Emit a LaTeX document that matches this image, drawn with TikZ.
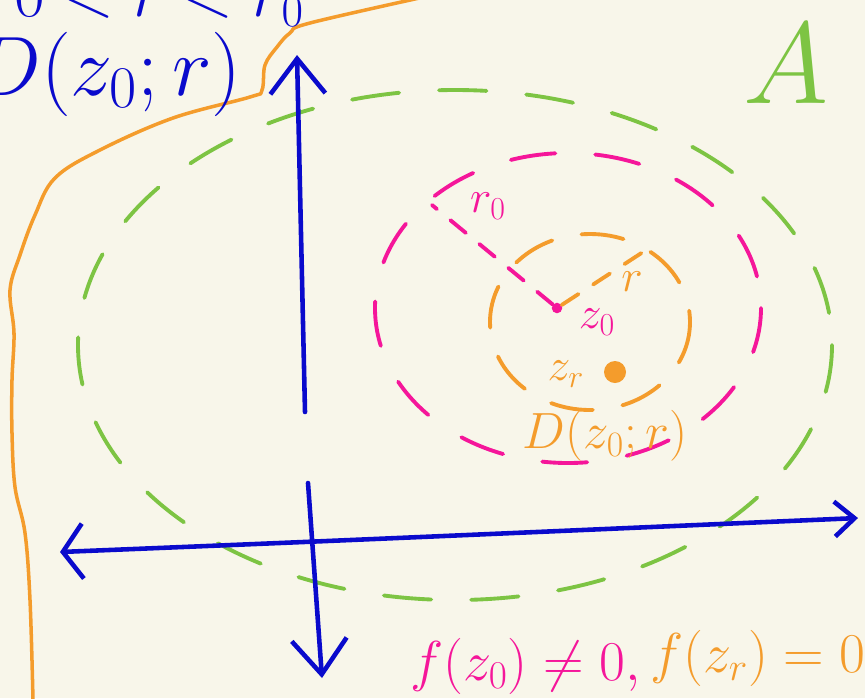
\documentclass[tikz,border=0pt]{standalone}
\usepackage{fix-cm}
\usepackage{amsmath,amssymb}
\usepackage{xcolor}
\usetikzlibrary{arrows.meta,positioning,calc}
\definecolor{paper}{HTML}{F8F6EA}
\definecolor{penblue}{HTML}{0A0ACC}
\definecolor{penorange}{HTML}{F49C2C}
\definecolor{penpink}{HTML}{F5169A}
\definecolor{pengreen}{HTML}{7DC443}

\begin{document}
\begin{tikzpicture}[
  x=0.02cm, y=-0.02cm,
  axis/.style={penblue, line width=2.6pt, line cap=round, line join=round},
  barb/.style={-{Straight Barb[length=0.7cm, width=1.1cm]}},
  region/.style={pengreen, line width=2.2pt, line cap=round, dash pattern=on 0.95cm off 0.8cm},
  bigdisc/.style={penpink, line width=2.2pt, line cap=round, dash pattern=on 0.9cm off 0.8cm},
  smalldisc/.style={penorange, line width=2.2pt, line cap=round, dash pattern=on 0.85cm off 0.6cm},
  radius/.style={line width=2.2pt, line cap=round, dash pattern=on 0.4cm off 0.35cm},
  dot/.style={circle, inner sep=0pt},
  lab/.style={inner sep=0pt, font=\fontsize{26}{30}\selectfont}
]
\useasboundingbox (0,0) rectangle (865,698);
\fill[paper] (0,0) rectangle (865,698);
\clip (0,0) rectangle (865,698);

% boundary of the domain
\draw[penorange, line width=2pt, line cap=round] plot[smooth, tension=0.6] coordinates {
  (433,-5) (310,23) (290,33) (277,47) (265,65) (262,90) (250,97) (173,118)
  (100,150) (55,178) (35,215) (20,255) (10,290) (14,333) (12,380) (12,433)
  (15,487) (25,533) (30,600) (33,700)};

% the set A
\draw[region] (455,345) ellipse [x radius=377, y radius=255];
\node[pengreen, inner sep=0pt, font=\fontsize{66}{74}\selectfont] (setA) at (786,64) {$A$};

% axes
\coordinate (ytop) at (297,55);
\coordinate (ymid) at (305,412);
\coordinate (ylow) at (308,483);
\coordinate (ybot) at (322,678);
\coordinate (xleft) at (60,552);
\coordinate (xright) at (858,518);
\draw[axis, barb] (ymid) -- (ytop);
\draw[axis, barb] (ylow) -- (ybot);
\draw[axis, {Straight Barb[length=0.4cm, width=1.1cm]}-{Straight Barb[length=0.4cm, width=0.7cm]}]
  (xleft) .. controls (330,541) .. (xright);

% the two discs
\draw[bigdisc] (568,308) ellipse [x radius=193, y radius=155];
\draw[smalldisc] (590,322) ellipse [x radius=100, y radius=88];

\node[dot, fill=penpink, minimum size=6pt] (zo) at (557,308) {};
\node[dot, fill=penorange, minimum width=0.44cm, minimum height=0.36cm] (zr) at (615,372) {};
\coordinate (rotip) at (432,205);
\coordinate (rtip) at (643,252);
\draw[radius, penpink] (zo) -- (rotip);
\draw[radius, penorange] (zo) -- (rtip);

\node[lab, text=penpink] (rolab) at (488,206) {$r_0$};
\node[lab, text=penorange] (rlab) at (632,282) {$r$};
\node[lab, text=penpink] (zolab) at (597,322) {$z_0$};
\node[lab, text=penorange] (zrlab) at (566,374) {$z_r$};
\node[inner sep=0pt, text=penorange, font=\fontsize{29}{34}\selectfont] (smalldisclab) at (605,436) {$D(z_0;r)$};

% blue notes, top left
\node[inner sep=0pt, text=penblue, font=\fontsize{48}{56}\selectfont] (disclab) at (106,74) {$D(z_0;r)$};
\node[inner sep=0pt, text=penblue, font=\fontsize{38}{46}\selectfont, anchor=base west] (condlab) at (14,16) {$0<r<r_0$};

% values of f
\node[inner sep=0pt, text=penpink, font=\fontsize{32}{38}\selectfont, anchor=base west] (fzo) at (410,680) {$f(z_0)\neq 0,$};
\node[inner sep=0pt, text=penorange, font=\fontsize{32}{38}\selectfont, anchor=base west] (fzr) at (650,672) {$f(z_r)=0$};
\end{tikzpicture}
\end{document}
